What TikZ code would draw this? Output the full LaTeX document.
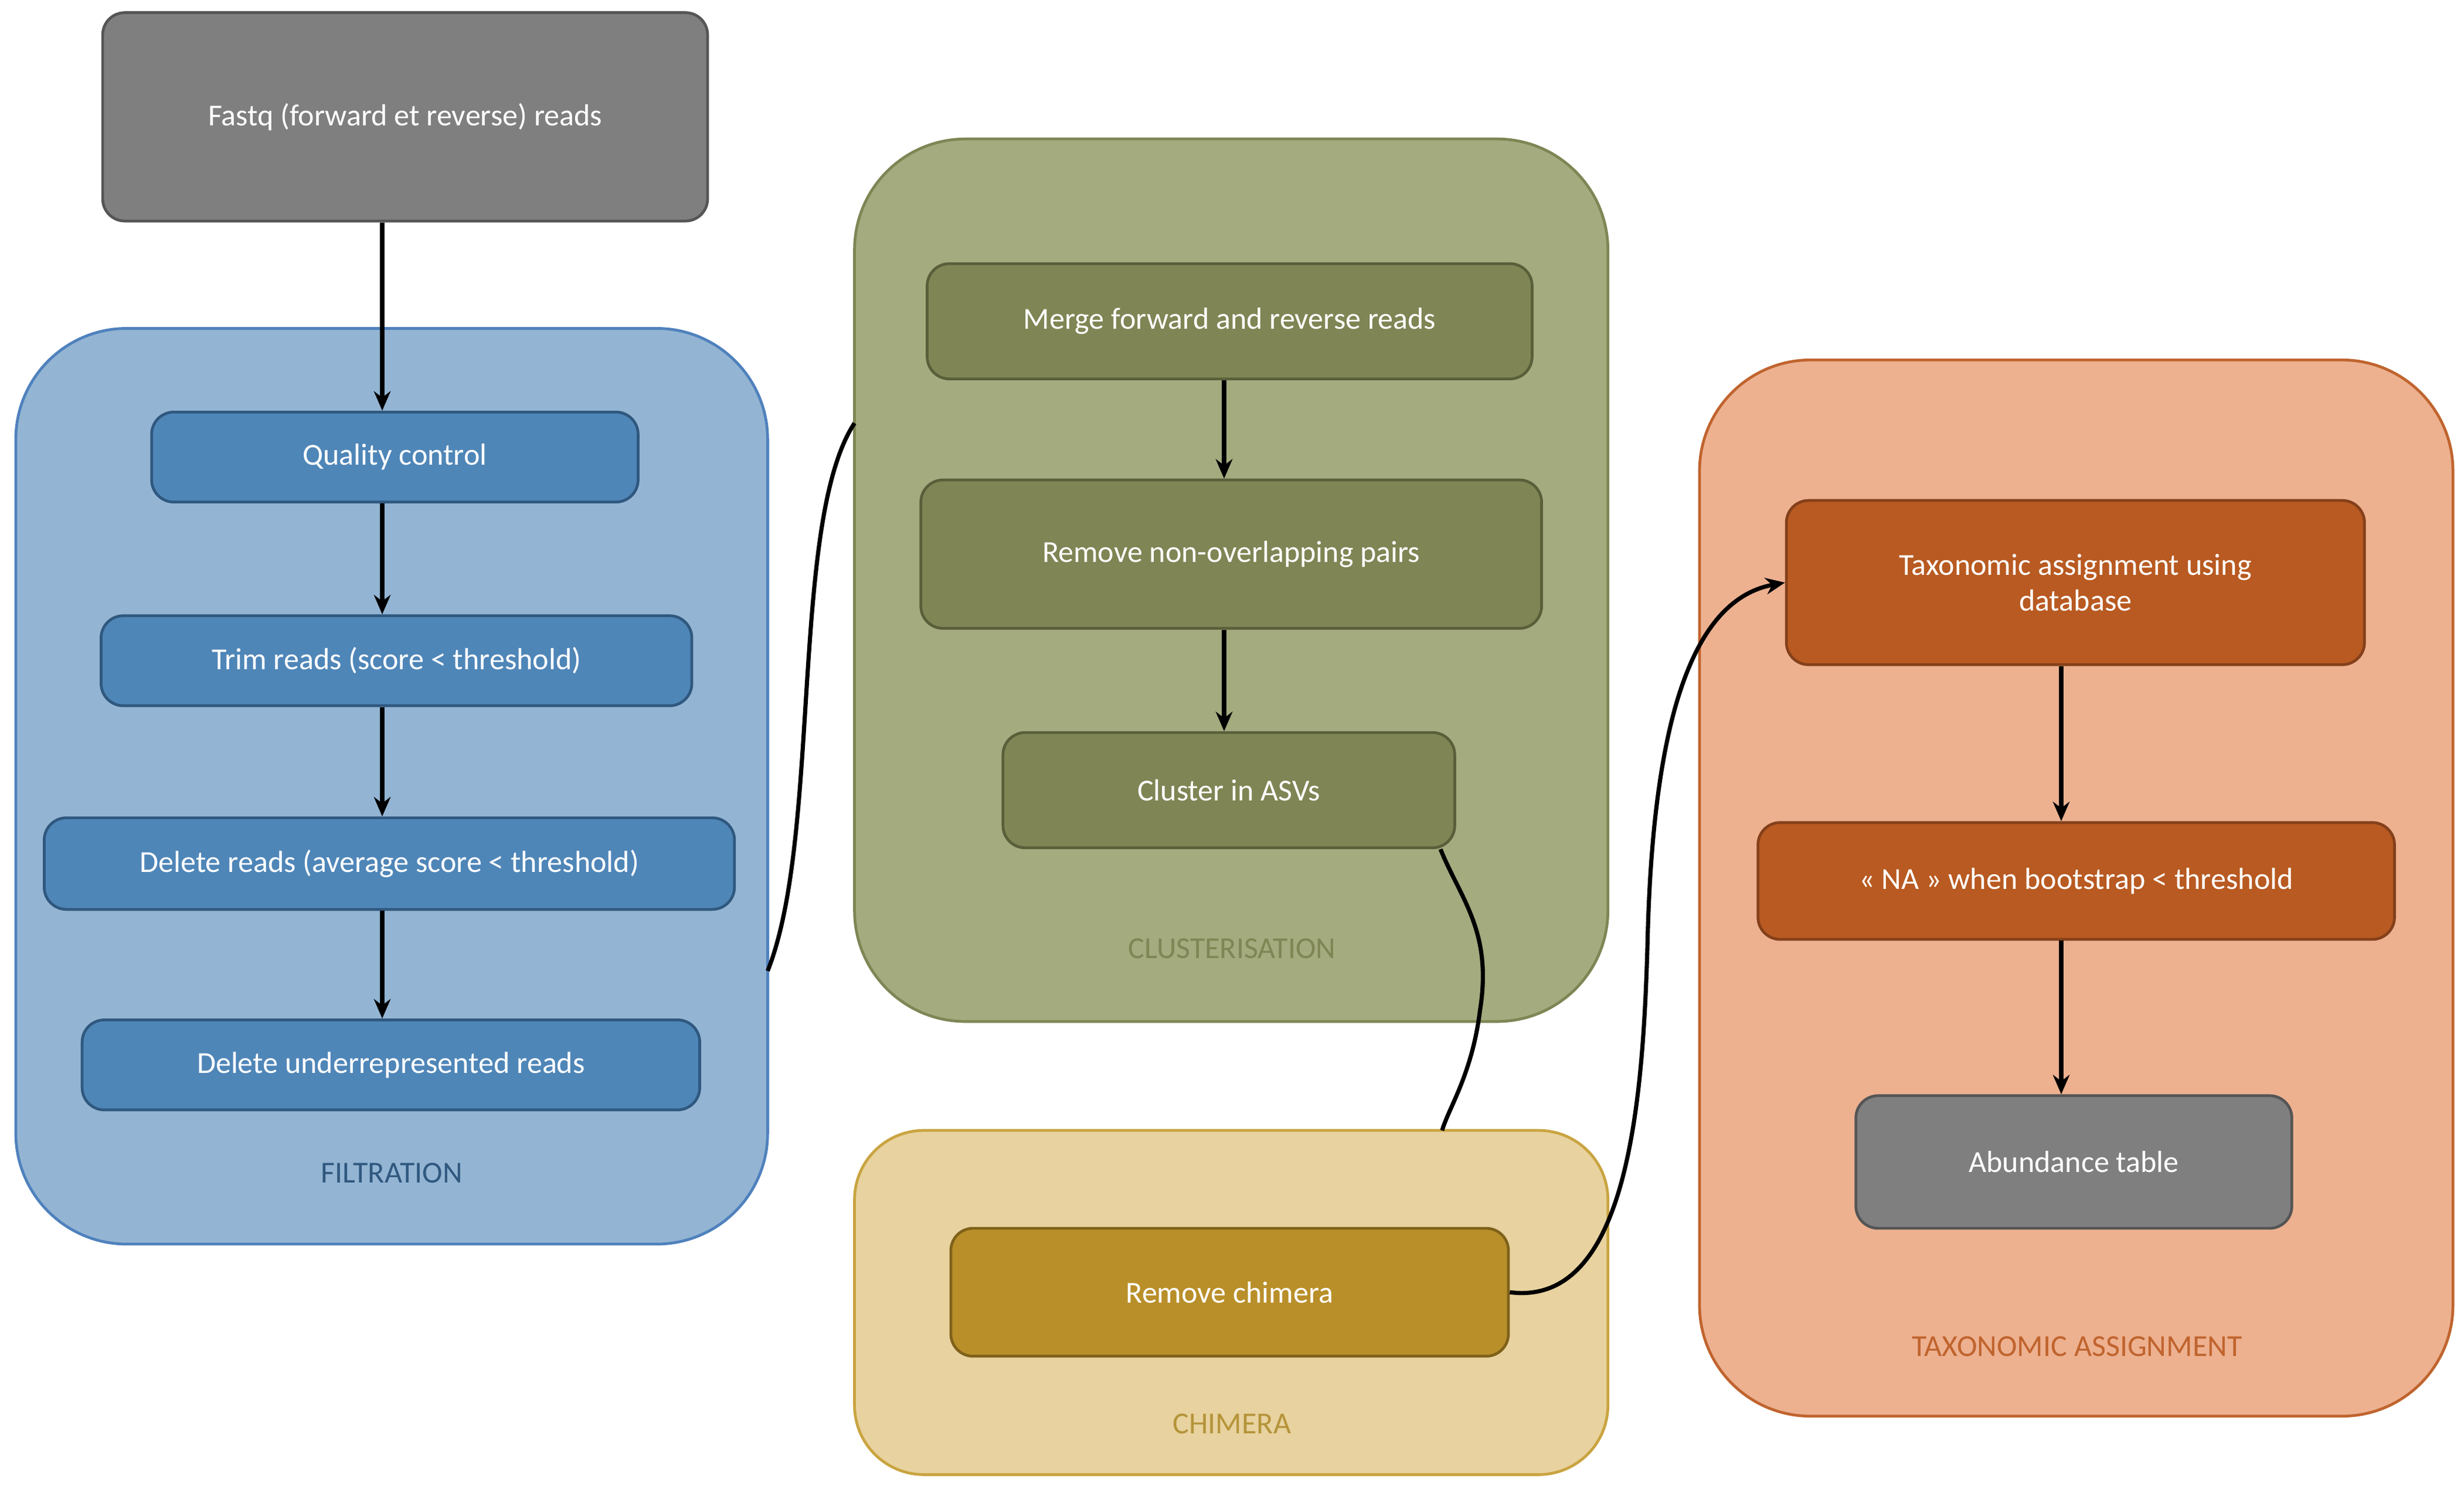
\documentclass[tikz,border=0pt]{standalone}
\usepackage{fontspec}
\setmainfont{Carlito}
\usetikzlibrary{arrows.meta}
\definecolor{grayf}{HTML}{7F7F7F}
\definecolor{grayb}{HTML}{555555}
\definecolor{bluec}{HTML}{93B5D3}
\definecolor{bluecb}{HTML}{4F81BD}
\definecolor{bluen}{HTML}{4F86B8}
\definecolor{bluenb}{HTML}{30587F}
\definecolor{greenc}{HTML}{A3AB7F}
\definecolor{greencb}{HTML}{7F8554}
\definecolor{greenn}{HTML}{7F8554}
\definecolor{greennb}{HTML}{5A5F3A}
\definecolor{yelc}{HTML}{E8D29F}
\definecolor{yelcb}{HTML}{C9A440}
\definecolor{yeln}{HTML}{B98F2A}
\definecolor{yelnb}{HTML}{7F611A}
\definecolor{orc}{HTML}{EDB190}
\definecolor{orcb}{HTML}{C0642E}
\definecolor{orn}{HTML}{B85A21}
\definecolor{ornb}{HTML}{84401A}
\begin{document}
\begin{tikzpicture}[x=0.02cm,y=-0.02cm,font=\fontsize{11}{13}\selectfont,
  box/.style={rounded corners=8pt,line width=1pt,text=white,align=center},
  cont/.style={rounded corners=40pt,line width=1pt},
  arr/.style={-{Stealth[length=7pt,width=6pt]},line width=1.5pt},
  lnk/.style={line width=1.5pt}]
\useasboundingbox (0,0) rectangle (1560,943);
\newcommand{\bx}[7]{\node[box,fill=#5,draw=#6,minimum width={(#3-#2)*0.02cm},minimum height={(#4-#1)*0.02cm}] (#7) at ({(#2+#3)/2},{(#1+#4)/2}) {};}
% containers
\draw[cont,fill=bluec,draw=bluecb] (10,208) rectangle (486,788);
\node[text=bluenb] (lf) at (248,743) {FILTRATION};
\draw[cont,fill=greenc,draw=greencb] (541,88) rectangle (1018,647);
\node[text=greencb] (lc) at (780,601) {CLUSTERISATION};
\draw[cont,fill=yelc,draw=yelcb,rounded corners=25pt] (541,716) rectangle (1018,934);
\node[text=yelcb!90!black] (lch) at (780,902) {CHIMERA};
\draw[cont,fill=orc,draw=orcb] (1076,228) rectangle (1553,897);
\node[text=orcb] (lt) at (1315,853) {TAXONOMIC ASSIGNMENT};
\coordinate (fr) at (486,615);
\coordinate (cl) at (541,268);
\coordinate (cht) at (913,716);
% nodes
\bx{8}{65}{448}{140}{grayf}{grayb}{fq}
\node[text=white] at (fq) {Fastq (forward et reverse) reads};
\bx{261}{96}{404}{318}{bluen}{bluenb}{qc}
\node[text=white] at (qc) {Quality control};
\bx{390}{64}{438}{447}{bluen}{bluenb}{tr}
\node[text=white] at (tr) {Trim reads (score < threshold)};
\bx{518}{28}{465}{576}{bluen}{bluenb}{dr}
\node[text=white] at (dr) {Delete reads (average score < threshold)};
\bx{646}{52}{443}{703}{bluen}{bluenb}{du}
\node[text=white] at (du) {Delete underrepresented reads};
\bx{167}{587}{970}{240}{greenn}{greennb}{mg}
\node[text=white] at (mg) {Merge forward and reverse reads};
\bx{304}{583}{976}{398}{greenn}{greennb}{rn}
\node[text=white] at (rn) {Remove non-overlapping pairs};
\bx{464}{635}{921}{537}{greenn}{greennb}{ca}
\node[text=white] at (ca) {Cluster in ASVs};
\bx{778}{602}{955}{859}{yeln}{yelnb}{rc}
\node[text=white] at (rc) {Remove chimera};
\bx{317}{1131}{1497}{421}{orn}{ornb}{ta}
\node[text=white,align=center] at (ta) {Taxonomic assignment using\\database};
\bx{521}{1113}{1516}{595}{orn}{ornb}{na}
\node[text=white] at (na) {« NA » when bootstrap < threshold};
\bx{694}{1175}{1451}{778}{grayf}{grayb}{ab}
\node[text=white] at (ab) {Abundance table};
% arrows
\draw[arr] (fq.south -| 242,0) -- (qc.north -| 242,0);
\draw[arr] (qc.south -| 242,0) -- (tr.north -| 242,0);
\draw[arr] (tr.south -| 242,0) -- (dr.north -| 242,0);
\draw[arr] (dr.south -| 242,0) -- (du.north -| 242,0);
\draw[arr] (mg.south -| 775,0) -- (rn.north -| 775,0);
\draw[arr] (rn.south -| 775,0) -- (ca.north -| 775,0);
\draw[arr] (ta.south -| 1305,0) -- (na.north -| 1305,0);
\draw[arr] (na.south -| 1305,0) -- (ab.north -| 1305,0);
\draw[lnk] (fr) .. controls (520,530) and (500,330) .. (cl);
\draw[lnk] (ca.south -| 912,0) .. controls (925,570) and (945,590) .. (937,640) .. controls (932,680) and (918,700) .. (cht);
\draw[arr] (rc.east) .. controls (1030,828) and (1040,700) .. (1043,600) .. controls (1046,460) and (1070,380) .. (ta.west);
\end{tikzpicture}
\end{document}
